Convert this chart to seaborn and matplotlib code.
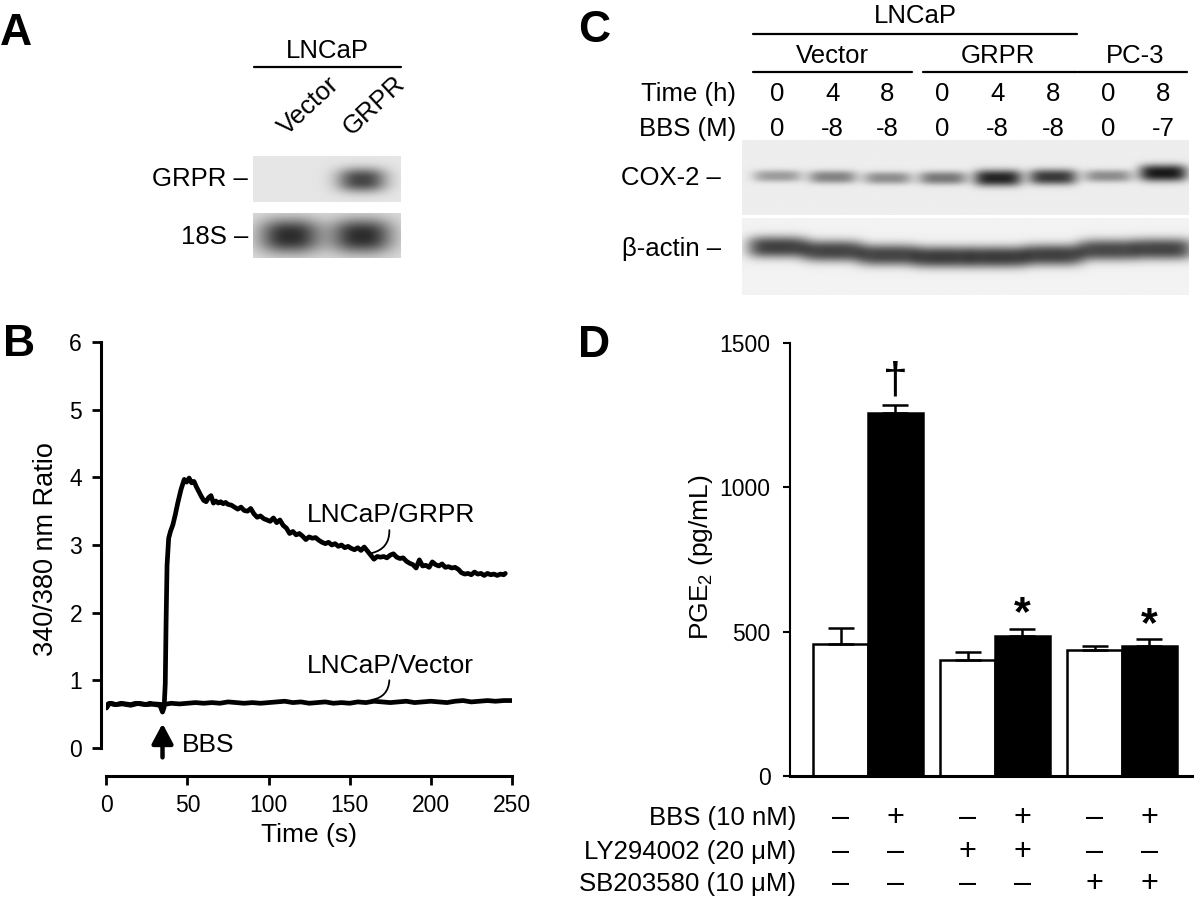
# Four-panel figure: northern blot (A), Ca2+ traces (B),
# COX-2 western blot (C) and PGE2 bar chart (D)
import numpy as np
import pandas as pd
import matplotlib
matplotlib.use('Agg')
import matplotlib.pyplot as plt
import matplotlib.transforms as mtrans
import seaborn as sns

# ---------------- data ----------------
# panel A: band darkness per lane (0 = no band, 1 = black)
a_lanes = ['Vector', 'GRPR']
a_grpr = [0.0, 0.78]
a_18s = [0.90, 0.90]

# panel B: 340/380 nm ratio traces
grpr_t = [0, 1, 3, 6, 9, 12, 15, 18, 21, 24,
          27, 30, 33, 34.6, 35.6, 36.3, 36.8, 37.4, 38.4, 39.5,
          41, 42.5, 44, 46, 48, 49.5, 51, 52.5, 54, 55.5,
          57, 58.5, 60, 61.5, 63, 64.5, 66, 67.5, 69, 70.5,
          72, 73.5, 75, 77, 79, 81, 83, 85, 87, 89,
          91, 93, 95, 97, 99, 101, 103, 105, 107, 109,
          111, 113, 115, 117, 119, 121, 123, 125, 127, 129,
          131, 133, 135, 137, 139, 141, 143, 145, 147, 149,
          151, 153, 155, 157, 159, 161, 163, 165, 167, 169,
          171, 173, 175, 177, 179, 181, 183, 185, 187, 189,
          191, 193, 195, 197, 199, 201, 203, 205, 207, 209,
          211, 213, 215, 217, 219, 221, 223, 225, 227, 229,
          231, 233, 235, 237, 239, 241, 243, 245, 246]
grpr_r = [0.60, 0.65, 0.66, 0.64, 0.66, 0.65, 0.64, 0.66, 0.65, 0.64,
          0.66, 0.64, 0.63, 0.53, 0.60, 0.95, 1.85, 2.70, 3.10, 3.20,
          3.30, 3.45, 3.62, 3.82, 3.97, 3.93, 3.99, 3.92, 3.94, 3.86,
          3.79, 3.72, 3.66, 3.64, 3.70, 3.73, 3.62, 3.65, 3.62, 3.64,
          3.61, 3.63, 3.60, 3.59, 3.56, 3.53, 3.56, 3.51, 3.50, 3.54,
          3.46, 3.41, 3.43, 3.39, 3.37, 3.35, 3.40, 3.33, 3.37, 3.29,
          3.25, 3.17, 3.20, 3.15, 3.17, 3.13, 3.08, 3.12, 3.10, 3.11,
          3.07, 3.04, 3.02, 3.04, 3.00, 3.02, 2.98, 3.00, 2.96, 2.98,
          2.95, 2.93, 2.96, 2.92, 2.97, 2.91, 2.85, 2.79, 2.83, 2.82,
          2.83, 2.81, 2.85, 2.87, 2.82, 2.80, 2.81, 2.76, 2.73, 2.71,
          2.66, 2.78, 2.69, 2.70, 2.67, 2.75, 2.71, 2.69, 2.72, 2.67,
          2.68, 2.66, 2.67, 2.64, 2.59, 2.57, 2.58, 2.56, 2.60, 2.57,
          2.58, 2.55, 2.58, 2.56, 2.57, 2.55, 2.57, 2.56, 2.58]
vec_t = [0, 2, 5, 10, 15, 20, 25, 30, 35, 40,
         45, 50, 55, 60, 65, 70, 75, 80, 85, 90,
         95, 100, 105, 110, 115, 120, 125, 130, 135, 140,
         145, 150, 155, 160, 165, 170, 175, 180, 185, 190,
         195, 200, 205, 210, 215, 220, 225, 230, 235, 240,
         245, 250]
vec_r = [0.59, 0.66, 0.64, 0.65, 0.63, 0.66, 0.64, 0.65, 0.64, 0.66,
         0.65, 0.66, 0.67, 0.66, 0.67, 0.66, 0.68, 0.67, 0.66, 0.67,
         0.66, 0.67, 0.68, 0.69, 0.67, 0.68, 0.66, 0.67, 0.68, 0.66,
         0.67, 0.66, 0.68, 0.67, 0.69, 0.68, 0.67, 0.68, 0.69, 0.67,
         0.68, 0.69, 0.68, 0.67, 0.69, 0.70, 0.68, 0.69, 0.70, 0.69,
         0.70, 0.70]

# panel C: western blot lanes
c_cells = ['Vector', 'GRPR', 'PC-3']
c_time = ['0', '4', '8', '0', '4', '8', '0', '8']
c_bbs = ['0', '-8', '-8', '0', '-8', '-8', '0', '-7']
c_cox2 = [0.38, 0.50, 0.45, 0.55, 0.95, 0.85, 0.45, 1.00]
c_actin = [0.82, 0.80, 0.80, 0.84, 0.84, 0.82, 0.78, 0.80]

# panel D: PGE2 (pg/mL), mean and SEM
d_groups = ['none', 'LY294002', 'SB203580']
d_bbs = ['-', '+']
d_mean = [457, 1259, 400, 483, 435, 449]
d_err = [54, 26, 28, 26, 16, 25]
d_marks = ['', '\u2020', '', '*', '', '*']
row_names = ['BBS (10 nM)', 'LY294002 (20 \u03bcM)', 'SB203580 (10 \u03bcM)']
row_bbs = ['\u2013', '+', '\u2013', '+', '\u2013', '+']
row_ly = ['\u2013', '\u2013', '+', '+', '\u2013', '\u2013']
row_sb = ['\u2013', '\u2013', '\u2013', '\u2013', '+', '+']

# ---------------- style ----------------
sns.set_theme(style='white')
plt.rcParams['font.family'] = ['Liberation Sans', 'DejaVu Sans']
plt.rcParams['mathtext.fontset'] = 'custom'
plt.rcParams['mathtext.rm'] = 'Liberation Sans'
for k in ['text.color', 'axes.labelcolor', 'xtick.color', 'ytick.color', 'axes.edgecolor']:
    plt.rcParams[k] = 'black'

W, H = 1200, 901
FS = 18.5
fig = plt.figure(figsize=(W / 100, H / 100), dpi=100)
fig.patch.set_facecolor('white')


def fx(px):
    return px / W


def fy(py):
    return 1 - py / H


def box(x0, x1, y0, y1):
    return [fx(x0), fy(y1), fx(x1) - fx(x0), fy(y0) - fy(y1)]


def ftext(px, py, s, **kw):
    fig.text(fx(px), fy(py), s, **kw)


def hline(x0, x1, py, lw=1.6):
    fig.add_artist(plt.Line2D([fx(x0), fx(x1)], [fy(py), fy(py)], color='black', lw=lw))


def blot(ax, dark, y0, y1, yc, sy, wx, bg, p=4):
    xl = ax.get_xlim()
    xs = np.linspace(xl[0], xl[1], 600)
    ys = np.linspace(y0, y1, 240)
    X, Y = np.meshgrid(xs, ys)
    d = np.zeros_like(X)
    for i, a in enumerate(dark):
        d += a * np.exp(-np.abs((X - i) / wx) ** p) * np.exp(-np.abs((Y - yc[i]) / sy[i]) ** 2.5)
    d = np.clip(d, 0, 1)
    img = bg * (1 - d) + 0.1 * d
    ax.imshow(img, cmap='gray', vmin=0, vmax=1, aspect='auto',
              extent=(xl[0], xl[1], y1, y0), interpolation='bilinear')


big = dict(fontsize=32, fontweight='bold', va='baseline', ha='left')
ftext(0, 45, 'A', **big)
ftext(3, 356, 'B', **big)
ftext(578, 42, 'C', **big)
ftext(578, 357, 'D', **big)

# ---------------- panel A ----------------
axA = fig.add_axes(box(253, 401, 150, 262))
axA.set_xlim(-0.514, 1.542)
axA.set_ylim(262, 150)
axA.axis('off')
blot(axA, a_grpr, 156, 202, [180, 180], [12, 12], 0.34, 0.90, p=2.5)
blot(axA, a_18s, 213, 258, [236, 236], [17, 17], 0.42, 0.86, p=2.5)
axA.set_xlim(-0.514, 1.542)
axA.set_ylim(262, 150)
ftext(327, 58, 'LNCaP', fontsize=FS, ha='center', va='baseline')
hline(254, 401, 67)
for lab, px in zip(a_lanes, [287, 352]):
    ftext(px, 136, lab, fontsize=FS, rotation=43, rotation_mode='anchor',
          ha='left', va='baseline')
ftext(248, 179, 'GRPR \u2013', fontsize=FS, ha='right', va='center')
ftext(248, 237, '18S \u2013', fontsize=FS, ha='right', va='center')

# ---------------- panel C ----------------
axC = fig.add_axes(box(741.6, 1188.6, 140, 295))
axC.set_xlim(-0.64, 7.46)
axC.set_ylim(295, 140)
axC.axis('off')
cox_y = [176, 177, 178, 178, 178, 177, 176, 173]
actin_y = [247, 251, 255, 257, 257, 255, 250, 249]
blot(axC, c_cox2, 140, 215, cox_y, [4.5 + 4 * a for a in c_cox2], 0.44, 0.93)
blot(axC, c_actin, 218, 295, actin_y, [11] * 8, 0.55, 0.95)
axC.set_xlim(-0.64, 7.46)
axC.set_ylim(295, 140)
tC = mtrans.blended_transform_factory(axC.transData, fig.transFigure)
axC.text(2.5, fy(23), 'LNCaP', transform=tC, fontsize=FS, ha='center', va='baseline')
axC.plot([-0.44, 5.44], [fy(34)] * 2, transform=tC, color='black', lw=1.6, clip_on=False)
for k, cell in enumerate(c_cells):
    lanes = [0, 1, 2] if k < 2 else [0, 1]
    first = 3 * k
    lo, hi = first - 0.44, first + len(lanes) - 1 + 0.44
    if k == 1:
        lo = first - 0.36
    if k == 2:
        lo = first - 0.55
    axC.plot([lo, hi], [fy(72)] * 2, transform=tC, color='black', lw=1.6, clip_on=False)
    axC.text((first + first + len(lanes) - 1) / 2, fy(63), cell, transform=tC,
             fontsize=FS, ha='center', va='baseline')
for i, (t, b) in enumerate(zip(c_time, c_bbs)):
    axC.text(i, fy(101), t, transform=tC, fontsize=FS, ha='center', va='baseline')
    axC.text(i, fy(136), b, transform=tC, fontsize=FS, ha='center', va='baseline')
ftext(736, 101, 'Time (h)', fontsize=FS, ha='right', va='baseline')
ftext(736, 136, 'BBS (M)', fontsize=FS, ha='right', va='baseline')
ftext(721, 178, 'COX-2 \u2013', fontsize=FS, ha='right', va='center')
ftext(721, 249, '\u03b2-actin \u2013', fontsize=FS, ha='right', va='center')

# ---------------- panel B ----------------
axB = fig.add_axes(box(106.4, 511.8, 342.1, 747.9))
df_b = pd.concat([
    pd.DataFrame({'time': vec_t, 'ratio': vec_r, 'cell': 'LNCaP/Vector'}),
    pd.DataFrame({'time': grpr_t, 'ratio': grpr_r, 'cell': 'LNCaP/GRPR'}),
])
sns.lineplot(data=df_b, x='time', y='ratio', hue='cell',
             palette={'LNCaP/Vector': 'black', 'LNCaP/GRPR': 'black'},
             estimator=None, sort=False, legend=False, linewidth=3.4, ax=axB)
axB.set_xlim(0, 250)
axB.set_ylim(0, 6)
axB.set_xticks([0, 50, 100, 150, 200, 250])
axB.set_yticks([0, 1, 2, 3, 4, 5, 6])
axB.set_xlabel('')
axB.set_ylabel('')
axB.spines[['top', 'right']].set_visible(False)
axB.spines['left'].set_position(('outward', 4))
axB.spines['bottom'].set_position(('outward', 20))
axB.spines['left'].set_bounds(0, 6)
axB.spines['bottom'].set_bounds(0, 250)
for s in ['left', 'bottom']:
    axB.spines[s].set_linewidth(2.2)
axB.tick_params(direction='out', length=6.5, width=2, labelsize=16.5, pad=7,
                left=True, bottom=True)
ftext(46, 549, '340/380 nm Ratio', fontsize=19.5, rotation=90, ha='center', va='center')
ftext(309, 835, 'Time (s)', fontsize=19, ha='center', va='center')

axB.annotate('', xy=(34.6, 0.36), xytext=(34.6, -0.14), annotation_clip=False,
             arrowprops=dict(arrowstyle='-|>,head_length=0.6,head_width=0.32',
                             mutation_scale=20, lw=3.2, color='black',
                             shrinkA=0, shrinkB=0))
axB.text(46.7, 0.04, 'BBS', fontsize=19, ha='left', va='center', clip_on=False)
for lab, ty, y0, y1 in [('LNCaP/GRPR', 3.44, 3.22, 2.88), ('LNCaP/Vector', 1.21, 1.00, 0.71)]:
    axB.text(123.6, ty, lab, fontsize=19, ha='left', va='center')
    axB.annotate('', xy=(163.6, y1), xytext=(174.5, y0),
                 arrowprops=dict(arrowstyle='-', lw=1.3, color='black',
                                 connectionstyle='arc3,rad=-0.4',
                                 shrinkA=0, shrinkB=0))

# ---------------- panel D ----------------
axD = fig.add_axes(box(790, 1192, 343, 775.8))
df_d = pd.DataFrame({'treatment': np.repeat(d_groups, 2),
                     'bbs': d_bbs * 3, 'pge2': d_mean, 'err': d_err})
sns.barplot(data=df_d, x='treatment', y='pge2', hue='bbs', hue_order=d_bbs,
            palette={'-': 'white', '+': 'black'}, edgecolor='black', linewidth=1.8,
            width=0.86, errorbar=None, legend=False, saturation=1, ax=axD)
axD.set_xlim(-0.614, 2.55)
axD.set_ylim(0, 1500)
axD.set_yticks([0, 500, 1000, 1500])
axD.set_xticks([])
axD.set_xlabel('')
axD.set_ylabel('')
axD.spines[['top', 'right']].set_visible(False)
axD.spines['left'].set_linewidth(1.5)
axD.spines['bottom'].set_linewidth(2.2)
axD.tick_params(axis='y', direction='out', length=5, width=1.5, labelsize=16.5, pad=9, left=True)

centers = []
for level, cont in zip(d_bbs, axD.containers):
    for grp, bar in zip(d_groups, cont):
        row = df_d[(df_d['treatment'] == grp) & (df_d['bbs'] == level)].iloc[0]
        xc = bar.get_x() + bar.get_width() / 2
        h = bar.get_height()
        axD.errorbar(xc, h, yerr=[[0], [row['err']]], fmt='none', ecolor='black',
                     elinewidth=1.8, capsize=9.5, capthick=1.8, zorder=1)
        centers.append((xc, h + row['err'], d_groups.index(grp) * 2 + d_bbs.index(level)))
centers.sort(key=lambda c: c[2])
for (xc, top, k) in centers:
    m = d_marks[k]
    if m == '\u2020':
        axD.text(xc, top + 12, m, fontsize=32, ha='center', va='bottom')
    elif m:
        axD.text(xc, top + 50, m, fontsize=31, fontweight='bold', ha='center', va='center')

tD = mtrans.blended_transform_factory(axD.transData, fig.transFigure)
for name, syms, py in zip(row_names, [row_bbs, row_ly, row_sb], [818, 852, 884]):
    ftext(796, py, name, fontsize=FS, ha='right', va='center')
    for (xc, top, k) in centers:
        axD.text(xc, fy(py), syms[k], transform=tD, fontsize=22, ha='center', va='center')
ftext(701, 557, r'PGE$_\mathregular{2}$ (pg/mL)', fontsize=19, rotation=90,
      ha='center', va='center')

fig.savefig('out.png', dpi=100, facecolor='white')
